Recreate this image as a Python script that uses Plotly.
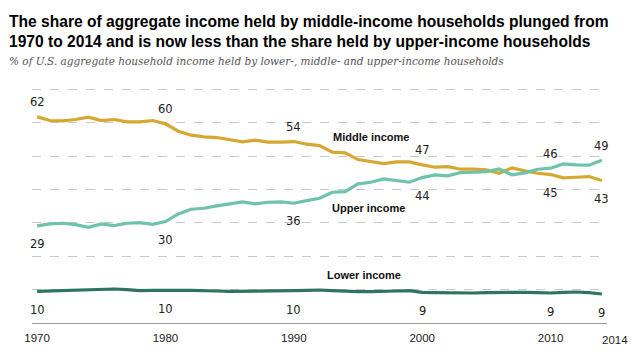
import plotly.graph_objects as go

years = list(range(1970, 2015))

middle = [61.8, 60.7, 60.6, 61.0, 61.7, 60.7, 61.0, 60.3, 60.3, 60.7,
          59.7, 57.5, 56.3, 55.8, 55.6, 55.0, 54.3, 54.8, 54.2, 54.2,
          54.4, 53.6, 53.2, 51.2, 51.0, 49.0, 48.5, 47.8, 48.3, 48.3,
          47.4, 46.7, 46.9, 46.1, 46.1, 45.9, 44.9, 46.5, 45.6, 44.9,
          44.5, 43.5, 43.7, 43.9, 42.7]

upper = [29.1, 29.7, 29.9, 29.5, 28.7, 29.7, 29.2, 29.9, 30.1, 29.6,
         30.4, 32.7, 34.1, 34.4, 35.1, 35.7, 36.3, 35.7, 36.2, 36.3,
         35.9, 36.7, 37.4, 39.2, 39.4, 41.7, 42.2, 43.2, 42.7, 42.2,
         43.6, 44.4, 44.1, 45.1, 45.2, 45.4, 46.2, 44.4, 45.0, 46.1,
         46.4, 47.7, 47.4, 47.3, 48.8]

lower = [9.5, 9.6, 9.7, 9.7, 9.8, 10.1, 10.2, 10.0, 9.7, 9.8,
         9.9, 9.8, 9.8, 9.8, 9.6, 9.5, 9.5, 9.6, 9.6, 9.7,
         9.7, 9.8, 9.9, 9.7, 9.5, 9.4, 9.4, 9.4, 9.6, 9.7,
         9.2, 9.1, 9.0, 9.1, 9.0, 9.1, 9.2, 9.3, 9.2, 9.1,
         9.0, 9.2, 9.3, 9.1, 8.7]

label_years = [1970, 1980, 1990, 2000, 2010, 2014]
middle_labels = ["62", "60", "54", "47", "45", "43"]
upper_labels = ["29", "30", "36", "44", "46", "49"]
lower_labels = ["10", "10", "10", "9", "9", "9"]
middle_above = [True, True, True, True, False, False]
upper_above = [False, False, False, False, True, True]

tick_years = [1970, 1980, 1990, 2000, 2010]
tick_text = ["1970", "1980", "1990", "2000", "2010"]
last_tick_text = "2014"
top_grid = 70

title_text = ("The share of aggregate income held by middle-income households plunged from<br>"
              "1970 to 2014 and is now less than the share held by upper-income households")
subtitle_text = "% of U.S. aggregate household income held by lower-, middle- and upper-income households"

series_names = ["Middle income", "Upper income", "Lower income"]
series_label_pos = [(1996.0, 55.8), (1995.8, 34.4), (1995.5, 14.5)]

C_MID = "#D6A832"
C_UP = "#6DC3AB"
C_LOW = "#2F7462"

fig = go.Figure()
for vals, col in [(middle, C_MID), (upper, C_UP), (lower, C_LOW)]:
    fig.add_trace(go.Scatter(x=years, y=vals, mode="lines",
                             line=dict(color=col, width=3.2, shape="linear"),
                             hoverinfo="skip", showlegend=False))

num_font = dict(family="DejaVu Sans", size=11.5, color="#222")
ann = []
lookup_mid = dict(zip(years, middle))
lookup_up = dict(zip(years, upper))
lookup_low = dict(zip(years, lower))
for yr, t, ab in zip(label_years, middle_labels, middle_above):
    ann.append(dict(x=yr, y=lookup_mid[yr], text=t, showarrow=False,
                    yshift=15 if ab else -18, font=num_font))
for yr, t, ab in zip(label_years, upper_labels, upper_above):
    ann.append(dict(x=yr, y=lookup_up[yr], text=t, showarrow=False,
                    yshift=14 if ab else -18, font=num_font))
for yr, t in zip(label_years, lower_labels):
    ann.append(dict(x=yr, y=lookup_low[yr], text=t, showarrow=False,
                    yshift=-19, font=num_font))

for name, (sx, sy) in zip(series_names, series_label_pos):
    ann.append(dict(x=sx, y=sy, text="<b>" + name + "</b>", showarrow=False,
                    font=dict(family="Liberation Sans", size=11, color="#111")))

ann.append(dict(x=2014, y=0, text=last_tick_text, showarrow=False,
                xshift=13, yshift=-17, font=dict(family="Liberation Sans", size=11.5, color="#222")))

ann.append(dict(xref="paper", yref="paper", x=-0.043, y=1.121, xanchor="left", yanchor="middle",
                text="<i>" + subtitle_text + "</i>", showarrow=False,
                font=dict(family="DejaVu Serif", size=10.5, color="#555")))

fig.update_layout(
    width=640, height=358,
    margin=dict(l=32, r=33, t=89, b=35),
    paper_bgcolor="white", plot_bgcolor="white",
    title=dict(text="<b>" + title_text + "</b>", x=9 / 640, xanchor="left", xref="container",
               y=1 - 26.5 / 358, yanchor="middle", yref="container",
               font=dict(family="Liberation Sans", size=15.6, color="#000")),
    xaxis=dict(range=[1969.6, 2014.4], tickvals=tick_years, ticktext=tick_text,
               showgrid=False, zeroline=False, showline=False,
               ticks="outside", ticklen=4, tickcolor="rgba(0,0,0,0)",
               tickfont=dict(family="Liberation Sans", size=11.5, color="#222")),
    yaxis=dict(range=[0, 70.15], dtick=10, showticklabels=False, showgrid=True,
               gridcolor="#c8c8c8", griddash="dash", gridwidth=1,
               zeroline=True, zerolinecolor="#9a9a9a", zerolinewidth=1.2, showline=False),
    annotations=ann,
    shapes=[dict(type="line", xref="paper", yref="y", x0=0, x1=1, y0=top_grid, y1=top_grid,
                 line=dict(color="#c8c8c8", width=1, dash="dash"), layer="below")],
)

fig.write_html("out.html", post_script="document.body.style.margin='0';",
               config={"displayModeBar": False})
